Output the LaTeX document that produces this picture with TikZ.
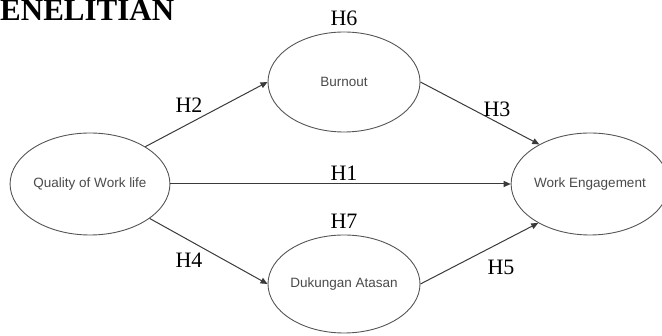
\documentclass[tikz,border=0pt]{standalone}
\usepackage{fontspec}
\setmainfont{Liberation Serif}
\setsansfont{Liberation Sans}
\usetikzlibrary{arrows.meta,positioning,shapes.geometric}
\definecolor{edgegray}{HTML}{555555}
\definecolor{textgray}{HTML}{4A4A4A}
\definecolor{linegray}{HTML}{3A3A3A}
\tikzset{
  varnode/.style={ellipse, draw=edgegray, line width=0.9pt, inner sep=0pt,
    font=\sffamily\fontsize{13.5}{15}\selectfont, text=textgray},
  hyplabel/.style={anchor=base, inner sep=0pt, font=\fontsize{22}{24}\selectfont},
  arr/.style={-{Triangle[length=7pt,width=6pt]}, line width=1pt, draw=linegray}
}

\begin{document}
\begin{tikzpicture}[x=1pt, y=-1pt]
    \useasboundingbox (0,0) rectangle (662,336);
    \node[anchor=base west, inner sep=0pt, font=\bfseries\fontsize{31}{33}\selectfont] (head) at (0,21) {ENELITIAN};
    \node[varnode, minimum width=154pt, minimum height=102pt] (qwl) at (90,184) {Quality of Work life};
    \node[varnode, minimum width=152pt, minimum height=100pt] (burnout) at (344,82) {Burnout};
    \node[varnode, minimum width=140pt, minimum height=102pt] (we) at (590,184) {Work Engagement};
    \node[varnode, minimum width=152pt, minimum height=98pt] (dukungan) at (344,284) {Dukungan Atasan};
    \draw[arr] (qwl.34) -- (burnout.west);
    \draw[arr] (burnout.east) -- (we.142);
    \draw[arr] (qwl.east) -- (we.west);
    \draw[arr] (qwl.-30) -- (dukungan.west);
    \draw[arr] (dukungan.east) -- (we.217);
    \node[hyplabel] (h6) at (344,26) {H6};
    \node[hyplabel] (h2) at (189,113) {H2};
    \node[hyplabel] (h3) at (497,117) {H3};
    \node[hyplabel] (h1) at (344,181) {H1};
    \node[hyplabel] (h7) at (344,229) {H7};
    \node[hyplabel] (h4) at (189,268) {H4};
    \node[hyplabel] (h5) at (501,275) {H5};
  \end{tikzpicture}
\end{document}
